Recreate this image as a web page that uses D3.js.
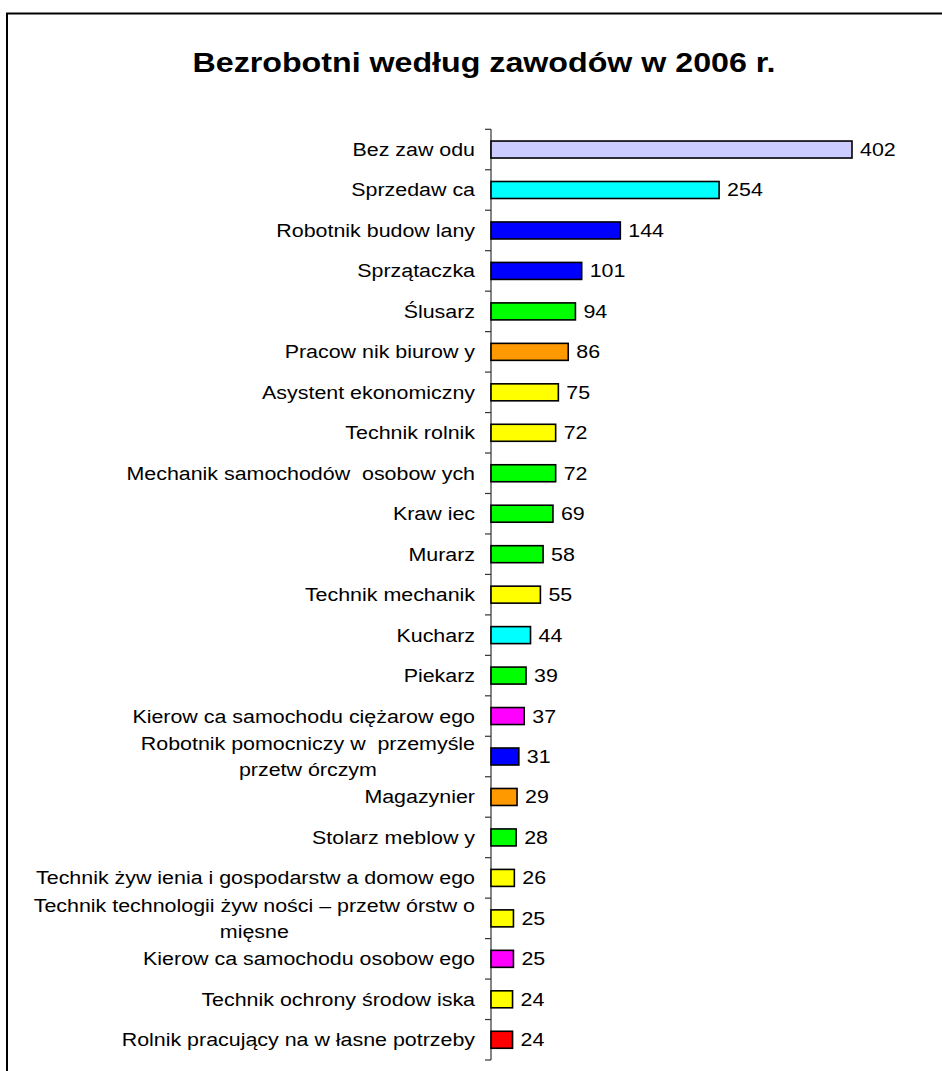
<!DOCTYPE html>
<html>
<head>
<meta charset="utf-8">
<script src="https://cdn.jsdelivr.net/npm/d3@7"></script>
<style>
html,body{margin:0;padding:0;background:#fff;}
svg{display:block;font-family:"Liberation Sans",Arial,sans-serif;}
svg text{white-space:pre;}
</style>
</head>
<body>
<svg id="chart" width="942" height="1071"></svg>
<script>
const title = "Bezrobotni według zawodów w 2006 r.";
const categories = [
  ["Bez zaw odu"],
  ["Sprzedaw ca"],
  ["Robotnik budow lany"],
  ["Sprzątaczka"],
  ["Ślusarz"],
  ["Pracow nik biurow y"],
  ["Asystent ekonomiczny"],
  ["Technik rolnik"],
  ["Mechanik samochodów  osobow ych"],
  ["Kraw iec"],
  ["Murarz"],
  ["Technik mechanik"],
  ["Kucharz"],
  ["Piekarz"],
  ["Kierow ca samochodu ciężarow ego"],
  ["Robotnik pomocniczy w  przemyśle", "przetw órczym"],
  ["Magazynier"],
  ["Stolarz meblow y"],
  ["Technik żyw ienia i gospodarstw a domow ego"],
  ["Technik technologii żyw ności – przetw órstw o", "mięsne"],
  ["Kierow ca samochodu osobow ego"],
  ["Technik ochrony środow iska"],
  ["Rolnik pracujący na w łasne potrzeby"]
];
const values = [402, 254, 144, 101, 94, 86, 75, 72, 72, 69, 58, 55, 44, 39, 37, 31, 29, 28, 26, 25, 25, 24, 24];
const colors = ["#CCCCFF", "#00FFFF", "#0000FF", "#0000FF", "#00FF00", "#FF9900", "#FFFF00", "#FFFF00",
  "#00FF00", "#00FF00", "#00FF00", "#FFFF00", "#00FFFF", "#00FF00", "#FF00FF", "#0000FF",
  "#FF9900", "#00FF00", "#FFFF00", "#FFFF00", "#FF00FF", "#FFFF00", "#FF0000"];

const svg = d3.select("#chart");
const SX = 1.19;

// frame
svg.append("path").attr("d", "M7,1071V13.5H942").attr("fill", "none").attr("stroke", "#000").attr("stroke-width", 2);

// title
svg.append("text")
  .attr("transform", `translate(484,72) scale(1.15,1)`)
  .attr("text-anchor", "middle")
  .attr("font-size", 28).attr("font-weight", "bold")
  .text(title);

const idx = d3.range(values.length);
const y = d3.scaleBand().domain(idx).range([129.3, 1060]).padding(0);
const x = d3.scaleLinear().domain([0, 402]).range([491, 852]);

const barH = y.bandwidth() * 0.42;

// axis
const g = svg.append("g");
g.append("line").attr("x1", 491).attr("x2", 491).attr("y1", y.range()[0]).attr("y2", y.range()[1])
  .attr("stroke", "#333").attr("stroke-width", 1.2);
const bounds = idx.map(i => y(i)).concat([y.range()[1]]);
g.selectAll("line.tick").data(bounds).join("line").attr("class", "tick")
  .attr("x1", 485).attr("x2", 491).attr("y1", d => d).attr("y2", d => d)
  .attr("stroke", "#333").attr("stroke-width", 1.2);

// bars
svg.selectAll("rect.bar").data(idx).join("rect").attr("class", "bar")
  .attr("x", x(0))
  .attr("y", i => y(i) + y.bandwidth() / 2 - barH / 2)
  .attr("width", i => x(values[i]) - x(0))
  .attr("height", barH)
  .attr("fill", i => colors[i])
  .attr("stroke", "#000").attr("stroke-width", 1.6);

// value labels
svg.selectAll("text.val").data(idx).join("text").attr("class", "val")
  .attr("transform", i => `translate(${x(values[i]) + 8},${y(i) + y.bandwidth() / 2 + 6.5}) scale(${SX},1)`)
  .attr("font-size", 18)
  .text(i => values[i]);

// category labels
const labG = svg.selectAll("g.lab").data(idx).join("g").attr("class", "lab");
labG.each(function(i) {
  const lines = categories[i];
  const cy = y(i) + y.bandwidth() / 2;
  const sel = d3.select(this);
  if (lines.length === 1) {
    sel.append("text")
      .attr("transform", `translate(475,${cy + 6.5}) scale(${SX},1)`)
      .attr("text-anchor", "end").attr("font-size", 18).text(lines[0]);
  } else {
    const t1 = sel.append("text")
      .attr("transform", `translate(475,${cy - 13 + 6.5}) scale(${SX},1)`)
      .attr("text-anchor", "end").attr("font-size", 18).text(lines[0]);
    const w = t1.node().getComputedTextLength() * SX;
    const center = 475 - w / 2;
    sel.append("text")
      .attr("transform", `translate(${center},${cy + 13 + 6.5}) scale(${SX},1)`)
      .attr("text-anchor", "middle").attr("font-size", 18).text(lines[1]);
  }
});
</script>
</body>
</html>
